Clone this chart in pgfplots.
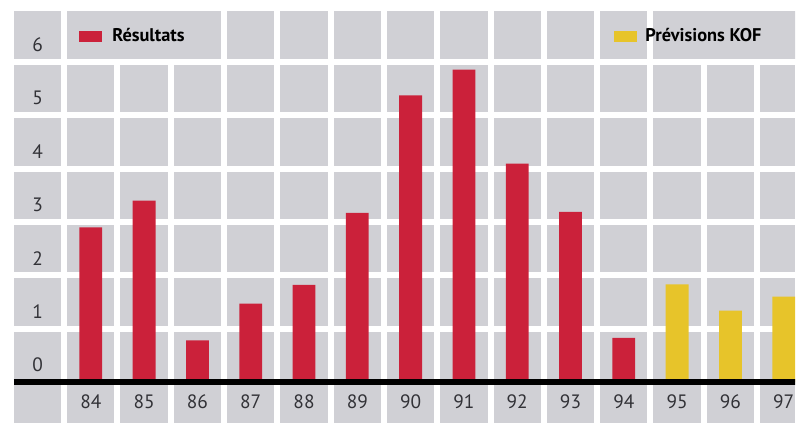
\documentclass[border=0pt]{standalone}
\usepackage{fontspec}
\setmainfont{PT Sans}
\usepackage{pgfplots}
\pgfplotsset{compat=1.18}

\definecolor{cellgray}{RGB}{208,208,213}
\definecolor{barred}{RGB}{203,33,58}
\definecolor{baryellow}{RGB}{231,196,42}
\definecolor{labelgray}{RGB}{50,50,55}

\newcommand{\swatch}[1]{\textcolor{#1}{\rule[-0.5pt]{24pt}{11pt}}}

\begin{document}
\begin{tikzpicture}
\begin{axis}[
  scale only axis,
  width=798pt, height=425pt,
  xmin=-1.648, xmax=13.212,
  ymin=-0.799, ymax=7.100,
  clip=true,
  axis line style={draw=none},
  tick style={draw=none},
  major tick length=0pt, minor tick length=0pt,
  axis background/.style={fill=cellgray},
  % white gaps between the cells
  minor xtick={-0.5,0.5,...,12.5},
  minor ytick={1,2,3,4,5,6},
  xminorgrids, yminorgrids,
  minor grid style={white, line width=6pt},
  % year labels sit in the strip under the baseline
  xtick={0,...,13},
  xticklabels={84,85,86,87,88,89,90,91,92,93,94,95,96,97},
  xticklabel style={anchor=center, yshift=23pt, font=\fontsize{19.5}{21}\selectfont, text=labelgray},
  % value labels sit in the left column, low in each cell
  ytick={0.32,1.32,2.32,3.32,4.32,5.32,6.32},
  yticklabels={0,1,2,3,4,5,6},
  yticklabel style={anchor=center, xshift=35pt, font=\fontsize{19.5}{21}\selectfont, text=labelgray},
  /pgf/number format/assume math mode=true,
  ybar, bar width=23pt, bar shift=0pt,
]
% white margins around the cell block
\fill[white] (axis cs:-1.7,-1) rectangle (axis cs:-1.445,7.2);
\fill[white] (axis cs:-1.7,6.945) rectangle (axis cs:13.3,7.2);
\fill[white] (axis cs:-1.7,-1) rectangle (axis cs:13.3,-0.76);
% merged cells of the top row holding the legend entries
\fill[cellgray] (axis cs:-0.445,6.055) rectangle (axis cs:2.445,6.945);
\fill[cellgray] (axis cs:10.555,6.055) rectangle (axis cs:13.3,6.945);

\addplot[fill=barred, draw=none] coordinates {
  (0,2.90) (1,3.40) (2,0.78) (3,1.47) (4,1.82) (5,3.17)
  (6,5.37) (7,5.85) (8,4.09) (9,3.19) (10,0.83)
};
\addplot[fill=baryellow, draw=none] coordinates {
  (11,1.83) (12,1.34) (13,1.60)
};

% baseline
\draw[black, line width=5.5pt] (axis cs:-1.445,0) -- (axis cs:13.3,0);

\node[anchor=west, inner sep=0pt, font=\fontsize{18.5}{20}\selectfont\bfseries]
  at (axis cs:-0.233,6.49) {\swatch{barred}\hspace{10pt}Résultats};
\node[anchor=west, inner sep=0pt, font=\fontsize{18.5}{20}\selectfont\bfseries]
  at (axis cs:9.805,6.49) {\swatch{baryellow}\hspace{8pt}Prévisions KOF};
\end{axis}
\end{tikzpicture}
\end{document}
